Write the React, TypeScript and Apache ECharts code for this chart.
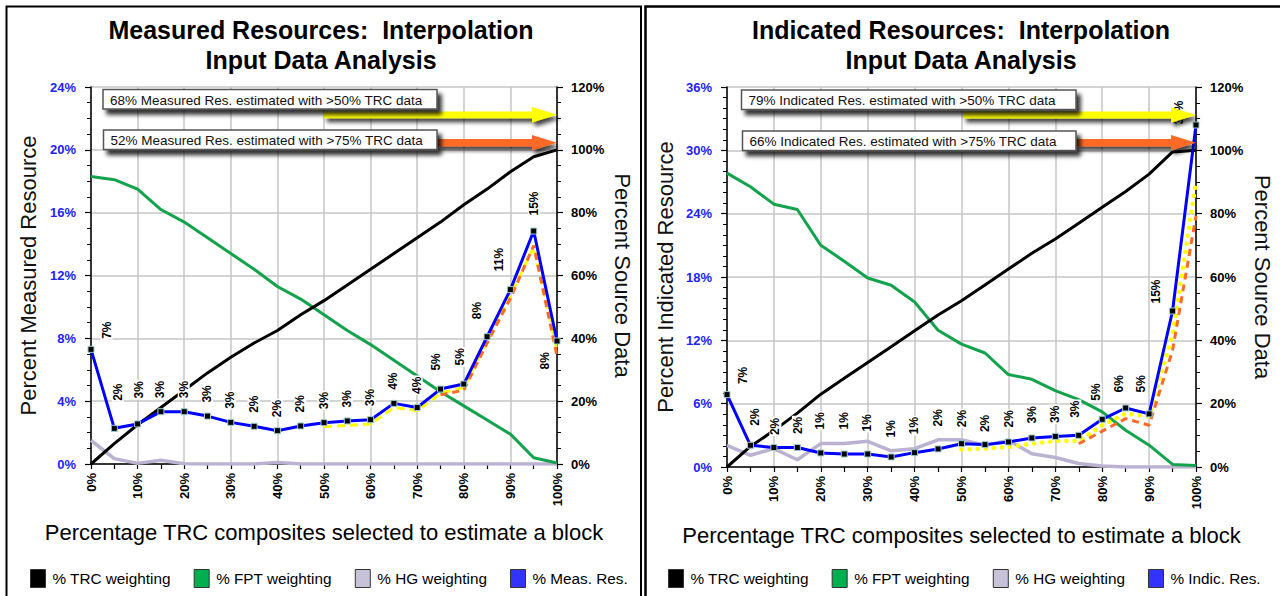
import React, { useEffect, useRef } from "react";
import * as echarts from "echarts";

const FONT = '"Liberation Sans", Arial, Helvetica, sans-serif';

// Percentage of TRC composites selected to estimate a block (x positions)
const trcSelected = [0, 5, 10, 15, 20, 25, 30, 35, 40, 45, 50, 55, 60, 65, 70, 75, 80, 85, 90, 95, 100];

// ---- Measured resources ----
const measTrcWeight = [0, 6.5, 12.5, 18, 23.5, 29, 34, 38.5, 42.5, 47.5, 52, 57, 62, 67, 72, 77, 82.5, 87.5, 93, 97.8, 100];
const measFptWeight = [91.5, 90.5, 87.5, 81, 77, 72, 67, 62, 56.5, 52.5, 47.5, 42.5, 38, 33, 28, 23, 18.5, 14, 9.5, 2, 0.3];
const measHgWeight = [7.5, 1.7, 0.2, 1.2, 0.1, 0, 0, 0, 0.5, 0, 0, 0, 0, 0, 0, 0, 0, 0, 0, 0, 0];
const measResource = [7.3, 2.27, 2.55, 3.33, 3.33, 3.05, 2.65, 2.4, 2.12, 2.42, 2.63, 2.74, 2.82, 3.86, 3.6, 4.77, 5.09, 8.1, 11.1, 14.83, 7.83];
const measOver50 = [null, null, null, null, null, null, null, null, null, null, 2.38, 2.46, 2.55, 3.6, 3.4, 4.5, 4.88, 7.8, 10.75, 13.8, 7.25];
const measOver75 = [null, null, null, null, null, null, null, null, null, null, null, null, null, null, null, 4.4, 4.7, 7.7, 10.55, 13.9, 6.87];

// ---- Indicated resources ----
const indTrcWeight = [0, 6.5, 11.5, 17, 23, 28, 33, 38, 43, 48, 52.5, 57.5, 62.5, 67.5, 72, 77, 82, 87, 92.5, 99.5, 100];
const indFptWeight = [92.8, 88.5, 83, 81.3, 70, 65, 59.7, 57.4, 52.1, 43.2, 38.8, 36, 29.2, 27.7, 24.1, 21.3, 17.4, 11.6, 6.9, 0.8, 0.5];
const indHgWeight = [6.8, 3.7, 5.8, 2.3, 7.4, 7.4, 8.1, 5.1, 5.8, 8.6, 8.6, 6.8, 8.4, 4.2, 3.0, 1.1, 0.3, 0, 0, 0, 0];
const indResource = [6.86, 2.06, 1.84, 1.84, 1.33, 1.23, 1.23, 0.95, 1.36, 1.71, 2.21, 2.12, 2.37, 2.75, 2.9, 3.0, 4.52, 5.59, 5.03, 14.78, 32.4];
const indOver50 = [null, null, null, null, null, null, null, null, null, null, 1.65, 1.74, 1.9, 2.2, 2.46, 2.46, 3.95, 5.06, 4.8, 12.6, 27];
const indOver75 = [null, null, null, null, null, null, null, null, null, null, null, null, null, null, null, 2.2, 3.4, 4.58, 3.95, 11.05, 23.8];

// Annotation texts
const measNote50 = "68% Measured Res. estimated with >50% TRC data";
const measNote75 = "52% Measured Res. estimated with >75% TRC data";
const indNote50 = "79% Indicated Res. estimated with >50% TRC data";
const indNote75 = "66% Indicated Res. estimated with >75% TRC data";

// Value-label anchor tweaks (px from marker centre) where the default would collide
const measLabelAnchor: Record<number, [number, number]> = {
  0: [16, -9], 1: [4, -26], 2: [2, -24], 15: [-4, -17], 16: [-3, -17],
  17: [-10, -16], 18: [-11, -17], 19: [1, -14], 20: [-12, 30],
};
const indLabelAnchor: Record<number, [number, number]> = {
  0: [16, -9], 1: [5, -18], 2: [2, -11], 3: [1, -12], 4: [0, -22], 5: [0, -23], 6: [0, -21],
  7: [0, -18], 8: [0, -17], 9: [0, -21], 10: [1, -15], 11: [1, -11], 12: [1, -13], 13: [1, -13],
  15: [-3, -16], 16: [-6, -17], 17: [-6, -14], 18: [-7.5, -20], 19: [-16, -6], 20: [-17, 1],
};

const pairs = (ys: (number | null)[]) =>
  trcSelected.map((x, i) => [x, ys[i]] as [number, number | null]).filter((p) => p[1] !== null);

const resData = (ys: number[], anchors: Record<number, [number, number]>) =>
  trcSelected.map((x, i) => {
    const [ax, ay] = anchors[i] ?? [0, -12];
    return { value: [x, ys[i]], label: { position: [ax + 3, ay + 3] } };
  });

const gridLine = { color: "#c6c6c6", width: 1.5 };
const axisBlack = { color: "#000", width: 1.5 };

function xAxis(gi: number) {
  return {
    type: "value",
    gridIndex: gi,
    min: 0,
    max: 100,
    interval: 10,
    axisLine: { show: true, onZero: false, lineStyle: axisBlack },
    axisTick: { show: true, length: 5, lineStyle: { color: "#000", width: 1.2 } },
    minorTick: { show: true, splitNumber: 2, length: 5, lineStyle: { color: "#000", width: 1.2 } },
    axisLabel: {
      rotate: 90, margin: 9, fontWeight: "bold", fontSize: 13, color: "#000",
      fontFamily: FONT, formatter: "{value}%",
    },
    splitLine: { show: true, lineStyle: gridLine },
    name: "Percentage TRC composites selected to estimate a block",
    nameLocation: "middle",
    nameGap: 57,
    nameTextStyle: { fontSize: 22, color: "#000", fontFamily: FONT },
  };
}

function leftAxis(gi: number, max: number, interval: number, minorSplit: number, name: string, gap: number) {
  return {
    type: "value",
    gridIndex: gi,
    position: "left",
    min: 0,
    max,
    interval,
    axisLine: { show: true, lineStyle: axisBlack },
    axisTick: { show: true, length: 6, lineStyle: { color: "#000", width: 1.2 } },
    minorTick: { show: true, splitNumber: minorSplit, length: 4, lineStyle: { color: "#000", width: 1 } },
    axisLabel: { formatter: "{value}%", color: "#2323ff", fontWeight: "bold", fontSize: 13, margin: 15, fontFamily: FONT },
    splitLine: { show: true, lineStyle: gridLine },
    name,
    nameLocation: "middle",
    nameRotate: 90,
    nameGap: gap,
    nameTextStyle: { fontSize: 22, color: "#111", fontFamily: FONT },
  };
}

function rightAxis(gi: number, gap: number) {
  return {
    type: "value",
    gridIndex: gi,
    position: "right",
    min: 0,
    max: 120,
    interval: 20,
    axisLine: { show: true, lineStyle: axisBlack },
    axisTick: { show: true, length: 6, lineStyle: { color: "#000", width: 1.2 } },
    minorTick: { show: true, splitNumber: 4, length: 4, lineStyle: { color: "#000", width: 1 } },
    axisLabel: { formatter: "{value}%", color: "#000", fontWeight: "bold", fontSize: 13, margin: 14, fontFamily: FONT },
    splitLine: { show: false },
    name: "Percent Source Data",
    nameLocation: "middle",
    nameRotate: -90,
    nameGap: gap,
    nameTextStyle: { fontSize: 22, color: "#111", fontFamily: FONT },
  };
}

function panelSeries(
  gi: number,
  resName: string,
  trc: number[],
  fpt: number[],
  hg: number[],
  res: number[],
  over50: (number | null)[],
  over75: (number | null)[],
  anchors: Record<number, [number, number]>,
  dotted: boolean
) {
  const yL = gi * 2;
  const yR = gi * 2 + 1;
  const common = { type: "line", xAxisIndex: gi, silent: true, emphasis: { disabled: true }, smooth: false };
  return [
    { ...common, name: "% HG weighting", yAxisIndex: yR, data: pairs(hg), symbol: "none", color: "#bab2d0", lineStyle: { color: "#bab2d0", width: 3.5 } },
    { ...common, name: "% FPT weighting", yAxisIndex: yR, data: pairs(fpt), symbol: "none", color: "#12a34c", lineStyle: { color: "#12a34c", width: 3 } },
    { ...common, name: "% TRC weighting", yAxisIndex: yR, data: pairs(trc), symbol: "none", color: "#000", lineStyle: { color: "#000", width: 3 } },
    {
      ...common, name: ">50% TRC data", yAxisIndex: yL, data: pairs(over50), symbol: "none", color: "#ffff00",
      lineStyle: dotted
        ? { color: "#ffff00", width: 4.5, type: [0.1, 8], cap: "round" }
        : { color: "#ffff00", width: 3, type: [8, 5] },
    },
    {
      ...common, name: ">75% TRC data", yAxisIndex: yL, data: pairs(over75), symbol: "none", color: "#ff6a26",
      lineStyle: { color: "#ff6a26", width: 3, type: [7, 5] },
    },
    {
      ...common,
      name: resName,
      yAxisIndex: yL,
      data: resData(res, anchors),
      symbol: "rect",
      symbolSize: 6,
      showAllSymbol: true,
      itemStyle: { color: "#000", borderColor: "#9cc", borderWidth: 1 },
      lineStyle: { color: "#0000ff", width: 3 },
      label: {
        show: true,
        rotate: 90,
        align: "left",
        verticalAlign: "middle",
        fontSize: 12,
        fontWeight: "bold",
        fontFamily: FONT,
        color: "#000",
        backgroundColor: "#fff",
        padding: [0, 1],
        formatter: (p: any) => Math.round(p.value[1]) + "%",
      },
    },
  ];
}

function legendFor(left: number, resName: string) {
  const border = { borderColor: "#333", borderWidth: 1 };
  return {
    left,
    top: 569,
    padding: 0,
    orient: "horizontal",
    icon: "rect",
    itemWidth: 15,
    itemHeight: 18,
    itemGap: 23,
    selectedMode: false,
    textStyle: { fontSize: 15.3, color: "#000", fontFamily: FONT, padding: [0, 0, 0, 2] },
    data: [
      { name: "% TRC weighting", itemStyle: { color: "#000", ...border } },
      { name: "% FPT weighting", itemStyle: { color: "#00b050", ...border } },
      { name: "% HG weighting", itemStyle: { color: "#c8c2d8", ...border } },
      { name: resName, itemStyle: { color: "#3333ff", ...border } },
    ],
  };
}

function arrow(x0: number, x1: number, yc: number, shaftHalf: number, color: string) {
  const hb = x1 - 25;
  return {
    type: "polygon",
    z: 100,
    silent: true,
    shape: {
      points: [
        [x0, yc - shaftHalf], [hb, yc - shaftHalf], [hb, yc - 7.8], [x1, yc],
        [hb, yc + 7.8], [hb, yc + shaftHalf], [x0, yc + shaftHalf],
      ],
    },
    style: { fill: color, shadowBlur: 4, shadowColor: "rgba(0,0,0,0.75)", shadowOffsetX: 3, shadowOffsetY: 4 },
  };
}

function noteBox(x: number, y: number, w: number, text: string) {
  return [
    {
      type: "rect",
      z: 101,
      silent: true,
      shape: { x, y, width: w, height: 19.5 },
      style: {
        fill: "#fff", stroke: "#555", lineWidth: 1.5,
        shadowBlur: 4, shadowOffsetX: 4, shadowOffsetY: 5, shadowColor: "rgba(0,0,0,0.8)",
      },
    },
    {
      type: "text",
      z: 102,
      silent: true,
      x: x + 7,
      y: y + 10.5,
      style: { text, fill: "#111", font: `13.5px ${FONT}`, verticalAlign: "middle", textAlign: "left" },
    },
  ];
}

function titleText(cx: number, l1: string) {
  return [
    { type: "text", z: 50, x: cx, y: 30, style: { text: l1, fill: "#000", font: `bold 25px ${FONT}`, textAlign: "center", verticalAlign: "middle" } },
    { type: "text", z: 50, x: cx, y: 60, style: { text: "Input Data Analysis", fill: "#000", font: `bold 25px ${FONT}`, textAlign: "center", verticalAlign: "middle" } },
  ];
}

function buildOption() {
  return {
    animation: false,
    backgroundColor: "#fff",
    textStyle: { fontFamily: FONT },
    grid: [
      { left: 91, top: 87, width: 466, height: 377, outerBoundsMode: "none", containLabel: false },
      { left: 727, top: 87, width: 469, height: 380, outerBoundsMode: "none", containLabel: false },
    ],
    xAxis: [xAxis(0), xAxis(1)],
    yAxis: [
      leftAxis(0, 24, 4, 4, "Percent Measured Resource", 52),
      rightAxis(0, 54),
      leftAxis(1, 36, 6, 6, "Percent Indicated Resource", 51),
      rightAxis(1, 55),
    ],
    legend: [legendFor(30, "% Meas. Res."), legendFor(668, "% Indic. Res.")],
    series: [
      ...panelSeries(0, "% Meas. Res.", measTrcWeight, measFptWeight, measHgWeight, measResource, measOver50, measOver75, measLabelAnchor, false),
      ...panelSeries(1, "% Indic. Res.", indTrcWeight, indFptWeight, indHgWeight, indResource, indOver50, indOver75, indLabelAnchor, true),
    ],
    graphic: [
      // panel frames
      { type: "rect", z: 0, silent: true, shape: { x: 6.5, y: 6.5, width: 634.5, height: 620 }, style: { fill: "none", stroke: "#000", lineWidth: 2 } },
      { type: "rect", z: 0, silent: true, shape: { x: 645.5, y: 6.5, width: 650, height: 620 }, style: { fill: "none", stroke: "#000", lineWidth: 2.5 } },
      ...titleText(321, "Measured Resources:  Interpolation"),
      ...titleText(961, "Indicated Resources:  Interpolation"),
      arrow(324, 557, 114.8, 3.4, "#ffff00"),
      arrow(437, 557, 142.8, 3.7, "#ff6a26"),
      arrow(963, 1196, 115, 3.4, "#ffff00"),
      arrow(1076, 1196, 142.8, 3.7, "#ff6a26"),
      ...noteBox(103, 89.5, 334, measNote50),
      ...noteBox(103.5, 130, 333.5, measNote75),
      ...noteBox(741.5, 90, 334.5, indNote50),
      ...noteBox(742.5, 131, 333.5, indNote75),
    ],
  };
}

export default function App() {
  const ref = useRef<HTMLDivElement>(null);
  useEffect(() => {
    if (!ref.current) return;
    const chart = echarts.init(ref.current, null, { renderer: "svg" });
    chart.setOption(buildOption() as any);
    return () => chart.dispose();
  }, []);
  return (
    <div
      ref={ref}
      style={{ position: "absolute", left: 0, top: 0, width: 1280, height: 596, background: "#fff" }}
    />
  );
}
